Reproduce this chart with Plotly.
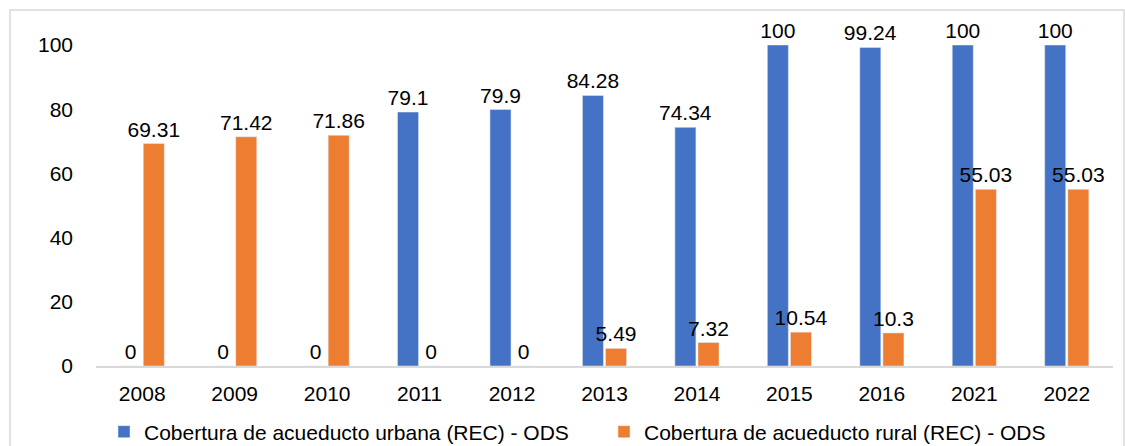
import plotly.graph_objects as go

years = ["2008", "2009", "2010", "2011", "2012", "2013", "2014", "2015", "2016", "2021", "2022"]
urbana = [0, 0, 0, 79.1, 79.9, 84.28, 74.34, 100, 99.24, 100, 100]
rural = [69.31, 71.42, 71.86, 0, 0, 5.49, 7.32, 10.54, 10.3, 55.03, 55.03]
name_urbana = "Cobertura de acueducto urbana (REC) - ODS"
name_rural = "Cobertura de acueducto rural (REC) - ODS"

FONT = "Liberation Sans"
FS = 21

fig = go.Figure()
for vals, name, color in [(urbana, name_urbana, "#4472C4"), (rural, name_rural, "#ED7D31")]:
    fig.add_trace(go.Bar(
        x=years, y=vals, name=name, marker_color=color,
        text=[f"{v:g}" for v in vals], textposition="outside",
        constraintext="none",
        textfont=dict(size=FS, color="#000000", family=FONT), cliponaxis=False,
    ))

fig.update_layout(
    width=1125, height=446,
    margin=dict(l=96, r=12, t=45, b=80, autoexpand=False),
    paper_bgcolor="white", plot_bgcolor="white",
    barmode="group", bargap=0.5, bargroupgap=0.09,
    font=dict(family=FONT, size=FS, color="#000000"),
    legend=dict(orientation="h", x=(104 - 96) / 1017, xanchor="left",
                y=(366 - 432) / 321, yanchor="middle",
                font=dict(size=FS, family=FONT), itemwidth=30,
                entrywidth=455, entrywidthmode="pixels",
                bgcolor="rgba(0,0,0,0)"),
    showlegend=True,
)
fig.update_xaxes(showline=True, linecolor="#D9D9D9", linewidth=1.5, ticks="",
                 showgrid=False, tickfont=dict(size=FS), ticklabelstandoff=8)
fig.update_yaxes(range=[0, 100], tickvals=[0, 20, 40, 60, 80, 100], showgrid=False,
                 zeroline=False, showline=False, ticks="", tickfont=dict(size=FS),
                 ticklabelstandoff=22)

# outer chart border
fig.add_shape(type="rect", xref="paper", yref="paper",
              x0=(10 - 96) / 1017, x1=(1124 - 96) / 1017,
              y0=(366 - 460) / 321, y1=(366 - 10) / 321,
              line=dict(color="#D9D9D9", width=1.5), layer="below")

fig.write_html("out.html", config={"displayModeBar": False},
               post_script="document.body.style.margin='0';document.body.style.overflow='hidden';")
